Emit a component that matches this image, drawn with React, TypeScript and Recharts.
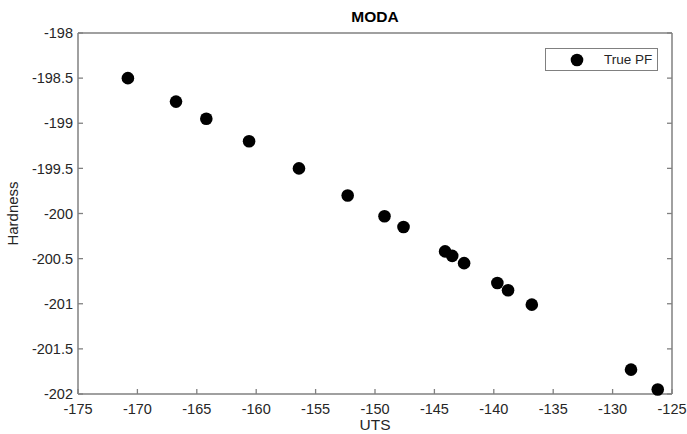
import { ScatterChart, Scatter, XAxis, YAxis, Legend, Label } from "recharts";

// UTS (x) and Hardness (y) of the true Pareto front points
const uts = [
  -170.8, -166.75, -164.2, -160.6, -156.4, -152.3, -149.2, -147.6,
  -144.1, -143.5, -142.5, -139.7, -138.8, -136.8, -128.45, -126.2,
];
const hardness = [
  -198.5, -198.76, -198.95, -199.2, -199.5, -199.8, -200.03, -200.15,
  -200.42, -200.47, -200.55, -200.77, -200.85, -201.01, -201.73, -201.95,
];

const xTicks = [-175, -170, -165, -160, -155, -150, -145, -140, -135, -130, -125];
const yTicks = [-202, -201.5, -201, -200.5, -200, -199.5, -199, -198.5, -198];

const seriesName = "True PF";

const points = uts.map((x, i) => ({ uts: x, hardness: hardness[i] }));

const FONT = "'Liberation Sans', Arial, Helvetica, sans-serif";
const AXIS = "#808080";
const TEXT = "#262626";
const TICK_LEN = 5;
const TICK_FONT = 14.5;

const Dot = (p: any) => <circle cx={p.cx} cy={p.cy} r={6.3} fill="#000" />;

// inward tick marks (MATLAB style), label outside
const BottomTick = (p: any) => (
  <g>
    <line x1={p.x} y1={p.y} x2={p.x} y2={p.y - TICK_LEN} stroke={AXIS} strokeWidth={1.3} />
    <text x={p.x} y={p.y + 10} dy="0.71em" textAnchor="middle" fill={TEXT} fontSize={TICK_FONT}>
      {p.payload.value}
    </text>
  </g>
);
const LeftTick = (p: any) => (
  <g>
    <line x1={p.x} y1={p.y} x2={p.x + TICK_LEN} y2={p.y} stroke={AXIS} strokeWidth={1.3} />
    <text x={p.x - 5} y={p.y} dy="0.355em" textAnchor="end" fill={TEXT} fontSize={TICK_FONT}>
      {p.payload.value}
    </text>
  </g>
);
const TopTick = (p: any) => (
  <line x1={p.x} y1={p.y} x2={p.x} y2={p.y + TICK_LEN} stroke={AXIS} strokeWidth={1.3} />
);
const RightTick = (p: any) => (
  <line x1={p.x} y1={p.y} x2={p.x - TICK_LEN} y2={p.y} stroke={AXIS} strokeWidth={1.3} />
);

const LegendBox = () => (
  <div
    style={{
      width: 111,
      height: 21,
      border: `1.5px solid ${AXIS}`,
      background: "#fff",
      display: "flex",
      alignItems: "center",
      fontFamily: FONT,
      fontSize: 13.5,
      color: TEXT,
    }}
  >
    <svg width={46} height={21}>
      <circle cx={31} cy={11} r={6.3} fill="#000" />
    </svg>
    <span style={{ marginLeft: 12 }}>{seriesName}</span>
  </div>
);

export default function App() {
  return (
    <div style={{ position: "absolute", left: 0, top: 0, width: 687, height: 434, background: "#fff" }}>
      <ScatterChart
        width={687}
        height={434}
        margin={{ top: 32, right: 14, left: 0, bottom: 0 }}
        style={{ fontFamily: FONT }}
      >
        <XAxis
          dataKey="uts"
          type="number"
          domain={[-175, -125]}
          ticks={xTicks}
          interval={0}
          height={40}
          stroke={AXIS}
          strokeWidth={1.5}
          tickLine={false}
          tickSize={0}
          tickMargin={0}
          tick={BottomTick}
        >
          <Label value="UTS" position="insideBottom" offset={4} style={{ fill: TEXT, fontSize: 15.5 }} />
        </XAxis>
        <XAxis
          xAxisId="top"
          orientation="top"
          type="number"
          domain={[-175, -125]}
          allowDataOverflow
          ticks={xTicks}
          interval={0}
          height={1}
          stroke={AXIS}
          strokeWidth={1.5}
          tickLine={false}
          tickSize={0}
          tickMargin={0}
          tick={TopTick}
        >
          <Label value="MODA" position="top" offset={10} style={{ fill: "#000", fontSize: 15.5, fontWeight: 700 }} />
        </XAxis>
        <YAxis
          dataKey="hardness"
          type="number"
          domain={[-202, -198]}
          ticks={yTicks}
          interval={0}
          width={78}
          stroke={AXIS}
          strokeWidth={1.5}
          tickLine={false}
          tickSize={0}
          tickMargin={0}
          tick={LeftTick}
        >
          <Label
            value="Hardness"
            angle={-90}
            position="insideLeft"
            offset={13}
            style={{ fill: TEXT, fontSize: 15, textAnchor: "middle" }}
          />
        </YAxis>
        <YAxis
          yAxisId="right"
          orientation="right"
          type="number"
          domain={[-202, -198]}
          allowDataOverflow
          ticks={yTicks}
          interval={0}
          width={1}
          stroke={AXIS}
          strokeWidth={1.5}
          tickLine={false}
          tickSize={0}
          tickMargin={0}
          tick={RightTick}
        />
        <Legend
          layout="horizontal"
          verticalAlign="middle"
          align="center"
          content={() => <LegendBox />}
          wrapperStyle={{ position: "absolute", top: 48, left: 545, width: 113 }}
        />
        <Scatter name={seriesName} data={points} fill="#000" shape={Dot} isAnimationActive={false} />
      </ScatterChart>
    </div>
  );
}
